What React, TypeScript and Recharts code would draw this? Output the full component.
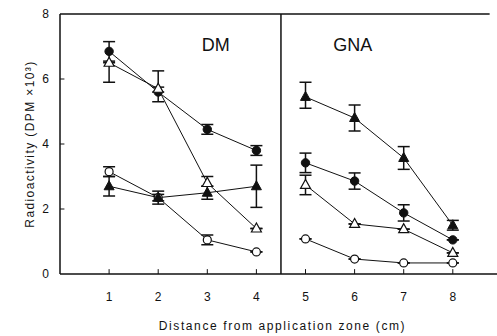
import { ComposedChart, Line, XAxis, YAxis, ErrorBar, ReferenceLine } from "recharts";

const dmX = [1, 2, 3, 4];
const gnaX = [5, 6, 7, 8];
const xTicks = [1, 2, 3, 4, 5, 6, 7, 8];
const yTicks = [0, 2, 4, 6, 8];

// DM panel (x = 1..4), errors as [below, above]
const dmFilledCircle = [6.85, 5.6, 4.45, 3.8];
const dmFilledCircleErr = [[0.3, 0.3], [0.3, 0.15], [0.15, 0.15], [0.15, 0.15]];
const dmOpenTriangle = [6.5, 5.7, 2.8, 1.4];
const dmOpenTriangleErr = [[0.6, 0], [0.1, 0.55], [0.1, 0.2], [0, 0]];
const dmOpenCircle = [3.15, 2.35, 1.05, 0.68];
const dmOpenCircleErr = [[0.15, 0.15], [0.1, 0.1], [0.15, 0.15], [0, 0]];
const dmFilledTriangle = [2.7, 2.35, 2.5, 2.7];
const dmFilledTriangleErr = [[0.3, 0.3], [0.2, 0.2], [0.2, 0.2], [0.65, 0.65]];

// GNA panel (x = 5..8)
const gnaFilledTriangle = [5.45, 4.8, 3.57, 1.5];
const gnaFilledTriangleErr = [[0.35, 0.45], [0.4, 0.4], [0.35, 0.35], [0.15, 0.15]];
const gnaFilledCircle = [3.42, 2.86, 1.88, 1.05];
const gnaFilledCircleErr = [[0.3, 0.3], [0.25, 0.25], [0.25, 0.25], [0, 0]];
const gnaOpenTriangle = [2.74, 1.54, 1.38, 0.65];
const gnaOpenTriangleErr = [[0.3, 0.3], [0, 0], [0, 0], [0, 0]];
const gnaOpenCircle = [1.08, 0.46, 0.34, 0.34];
const gnaOpenCircleErr = [[0, 0], [0, 0], [0, 0], [0, 0]];

type Shape = "filledCircle" | "openCircle" | "filledTriangle" | "openTriangle";

const series: { key: string; shape: Shape; x: number[]; y: number[]; err: number[][] }[] = [
  { key: "dmFC", shape: "filledCircle", x: dmX, y: dmFilledCircle, err: dmFilledCircleErr },
  { key: "dmOT", shape: "openTriangle", x: dmX, y: dmOpenTriangle, err: dmOpenTriangleErr },
  { key: "dmOC", shape: "openCircle", x: dmX, y: dmOpenCircle, err: dmOpenCircleErr },
  { key: "dmFT", shape: "filledTriangle", x: dmX, y: dmFilledTriangle, err: dmFilledTriangleErr },
  { key: "gnaFT", shape: "filledTriangle", x: gnaX, y: gnaFilledTriangle, err: gnaFilledTriangleErr },
  { key: "gnaFC", shape: "filledCircle", x: gnaX, y: gnaFilledCircle, err: gnaFilledCircleErr },
  { key: "gnaOT", shape: "openTriangle", x: gnaX, y: gnaOpenTriangle, err: gnaOpenTriangleErr },
  { key: "gnaOC", shape: "openCircle", x: gnaX, y: gnaOpenCircle, err: gnaOpenCircleErr },
];

// one row per x, each series only has values in its own panel
const data = xTicks.map((x) => {
  const row: Record<string, any> = { x };
  series.forEach((s) => {
    const i = s.x.indexOf(x);
    if (i >= 0) {
      row[s.key] = s.y[i];
      row[s.key + "Err"] = s.err[i];
    }
  });
  return row;
});

const INK = "#111";
const FONT = "'Liberation Sans', Arial, sans-serif";

const Marker = ({ cx, cy, shape }: { cx?: number; cy?: number; shape: Shape }) => {
  if (cx == null || cy == null || isNaN(cx) || isNaN(cy)) return <g />;
  if (shape === "filledCircle") return <circle cx={cx} cy={cy} r={4.2} fill={INK} stroke={INK} />;
  if (shape === "openCircle") return <circle cx={cx} cy={cy} r={4} fill="#fff" stroke={INK} strokeWidth={1.2} />;
  const pts = `${cx},${cy - 5.5} ${cx - 5},${cy + 3.5} ${cx + 5},${cy + 3.5}`;
  if (shape === "filledTriangle") return <polygon points={pts} fill={INK} stroke={INK} />;
  return <polygon points={pts} fill="#fff" stroke={INK} strokeWidth={1.2} />;
};

export default function App() {
  return (
    <div style={{ position: "absolute", left: 0, top: 0, background: "#fff" }}>
      <ComposedChart width={497} height={336} data={data} margin={{ top: 14, right: 0, bottom: 2, left: 0 }}>
        <XAxis
          dataKey="x"
          type="number"
          domain={[0, 8.9]}
          ticks={xTicks}
          allowDataOverflow
          height={60}
          tickSize={0}
          tickMargin={18}
          tickLine={false}
          axisLine={{ stroke: INK, strokeWidth: 1.5 }}
          tick={{ fill: INK, fontSize: 12, fontFamily: FONT }}
          label={{
            value: "Distance from application zone (cm)",
            position: "insideBottom",
            offset: 4,
            dx: 4,
            style: { fill: INK, fontSize: 12, fontFamily: FONT, letterSpacing: 1.6 },
          }}
        />
        <YAxis
          type="number"
          domain={[0, 8]}
          ticks={yTicks}
          width={60}
          tickSize={0}
          tickMargin={11}
          tickLine={false}
          axisLine={{ stroke: INK, strokeWidth: 1.5 }}
          tick={{ fill: INK, fontSize: 12, fontFamily: FONT }}
          label={{
            value: "Radioactivity (DPM ×10³)",
            angle: -90,
            position: "center",
            dx: 0,
            style: { fill: INK, fontSize: 12, fontFamily: FONT, letterSpacing: 1.4 },
          }}
        />
        {/* frame: top border and panel divider */}
        <ReferenceLine segment={[{ x: 0, y: 8 }, { x: 8.75, y: 8 }]} stroke={INK} strokeWidth={1.5} />
        <ReferenceLine x={4.5} stroke={INK} strokeWidth={1.5} />
        {/* inward ticks */}
        {xTicks.map((t) => (
          <ReferenceLine key={"xt" + t} segment={[{ x: t, y: 0 }, { x: t, y: 0.15 }]} stroke={INK} />
        ))}
        {yTicks.slice(1, -1).map((t) => (
          <ReferenceLine key={"yt" + t} segment={[{ x: 0, y: t }, { x: 0.09, y: t }]} stroke={INK} />
        ))}
        <ReferenceLine
          x={3.17}
          stroke="none"
          label={{ value: "DM", position: "insideTop", offset: 24, style: { fill: INK, fontSize: 18, fontFamily: FONT } }}
        />
        <ReferenceLine
          x={5.96}
          stroke="none"
          label={{ value: "GNA", position: "insideTop", offset: 24, style: { fill: INK, fontSize: 18, fontFamily: FONT } }}
        />
        {series.map((s) => (
          <Line
            key={s.key}
            dataKey={s.key}
            stroke={INK}
            strokeWidth={1}
            isAnimationActive={false}
            connectNulls={false}
            activeDot={false}
            dot={(p: any) => <Marker key={s.key + p.index} cx={p.cx} cy={p.cy} shape={s.shape} />}
          >
            <ErrorBar dataKey={s.key + "Err"} direction="y" width={6} stroke={INK} strokeWidth={1.5} />
          </Line>
        ))}
      </ComposedChart>
    </div>
  );
}
